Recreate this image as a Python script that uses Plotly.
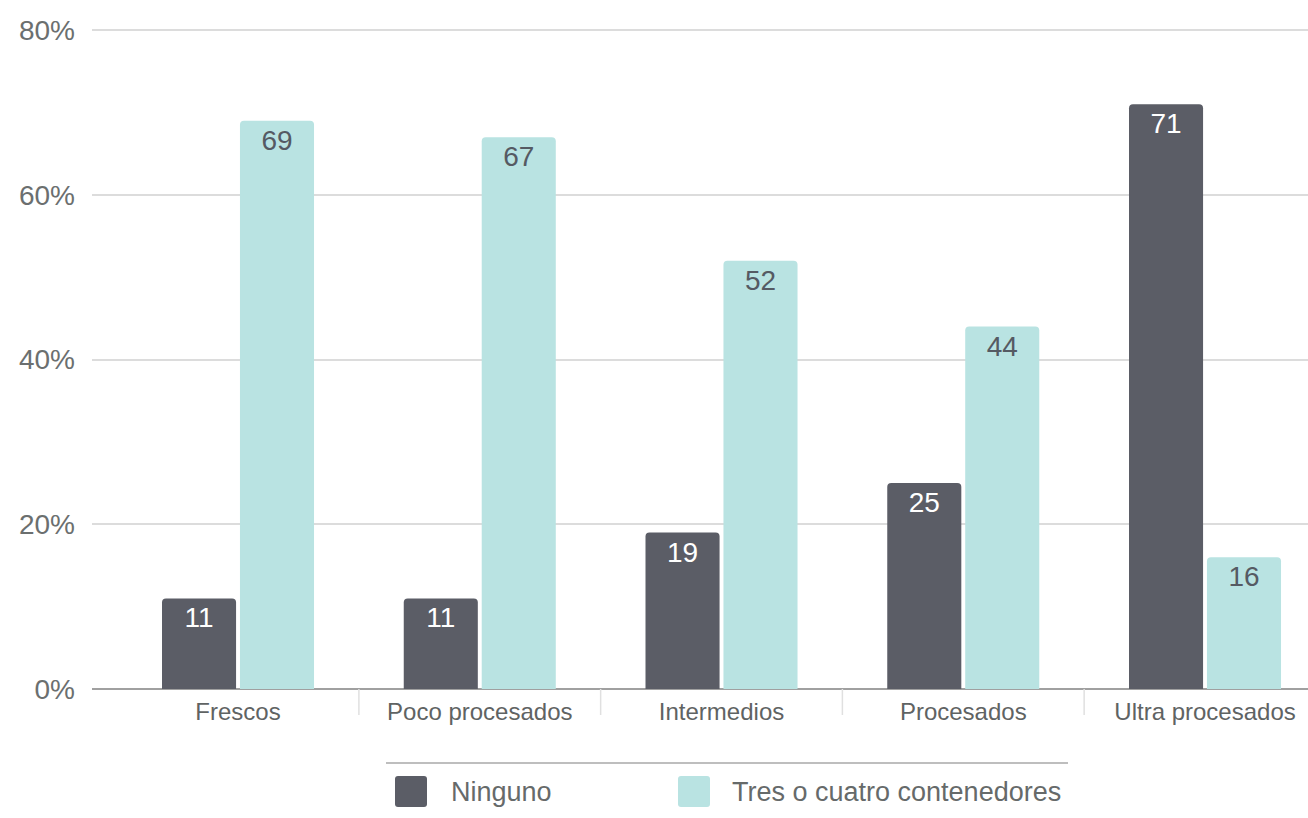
import plotly.graph_objects as go

categorias = ["Frescos", "Poco procesados", "Intermedios", "Procesados", "Ultra procesados"]
ninguno = [11, 11, 19, 25, 71]
tres_cuatro = [69, 67, 52, 44, 16]
y_ticks = [0, 20, 40, 60, 80]
y_tick_labels = ["0%", "20%", "40%", "60%", "80%"]
series_names = ["Ninguno", "Tres o cuatro contenedores"]

COLOR_NINGUNO = "#5b5d66"
COLOR_TRES = "#b9e3e2"
FONT = "Liberation Sans, Arial, sans-serif"

W, H = 1308, 818
M_L, M_R, M_T, M_B = 92, 0, 28, 129
PLOT_W = W - M_L - M_R
PLOT_H = H - M_T - M_B


def px_x(px):
    return (px - M_L) / PLOT_W


def px_y(py):
    return (H - M_B - py) / PLOT_H


def rounded_rect(x0, y0, x1, y1, r):
    # rounded rectangle path in paper units from a pixel box
    X = lambda v: px_x(v)
    Y = lambda v: px_y(v)
    return (f"M {X(x0 + r)} {Y(y0)} L {X(x1 - r)} {Y(y0)} "
            f"Q {X(x1)} {Y(y0)} {X(x1)} {Y(y0 + r)} L {X(x1)} {Y(y1 - r)} "
            f"Q {X(x1)} {Y(y1)} {X(x1 - r)} {Y(y1)} L {X(x0 + r)} {Y(y1)} "
            f"Q {X(x0)} {Y(y1)} {X(x0)} {Y(y1 - r)} L {X(x0)} {Y(y0 + r)} "
            f"Q {X(x0)} {Y(y0)} {X(x0 + r)} {Y(y0)} Z")


fig = go.Figure()

fig.add_trace(go.Bar(
    x=categorias, y=ninguno, name=series_names[0],
    marker=dict(color=COLOR_NINGUNO, line=dict(width=0)),
    texttemplate="%{y}", textposition="inside", insidetextanchor="end",
    textfont=dict(color="#ffffff", size=28, family=FONT),
    showlegend=False,
))
fig.add_trace(go.Bar(
    x=categorias, y=tres_cuatro, name=series_names[1],
    marker=dict(color=COLOR_TRES, line=dict(width=0)),
    texttemplate="%{y}", textposition="inside", insidetextanchor="end",
    textfont=dict(color="#555a63", size=28, family=FONT),
    showlegend=False,
))

# short separators between categories below the axis
for i in range(len(categorias) - 1):
    fig.add_shape(type="line", xref="x", yref="paper",
                  x0=i + 0.5, x1=i + 0.5, y0=0, y1=-26 / PLOT_H,
                  line=dict(color="#e0e0e0", width=1.5))

# rule above the legend
fig.add_shape(type="line", xref="paper", yref="paper",
              x0=px_x(386), x1=px_x(1068), y0=px_y(763), y1=px_y(763),
              line=dict(color="#a8a8a8", width=1.5))

# legend: swatches and labels
legend_items = [
    (series_names[0], COLOR_NINGUNO, 395, 449),
    (series_names[1], COLOR_TRES, 678, 730),
]
for nombre, color, sx, tx in legend_items:
    fig.add_shape(type="path", xref="paper", yref="paper",
                  path=rounded_rect(sx, 776, sx + 32, 807, 3),
                  fillcolor=color, line=dict(width=0))
    fig.add_annotation(xref="paper", yref="paper", x=px_x(tx), y=px_y(792),
                       xanchor="left", yanchor="middle", showarrow=False,
                       text=nombre, font=dict(size=27, color="#666a6a", family=FONT))

fig.update_layout(
    width=W, height=H,
    margin=dict(l=M_L, r=M_R, t=M_T, b=M_B),
    paper_bgcolor="white", plot_bgcolor="white",
    barmode="group", bargap=0.355, bargroupgap=0.05,
    barcornerradius=4,
    showlegend=False,
    font=dict(family=FONT, color="#666a6a"),
    xaxis=dict(
        range=[-0.604, 4.426],
        showgrid=False, zeroline=False, showline=False,
        ticks="", ticklabelstandoff=6,
        tickfont=dict(size=24, color="#5f6363"),
        fixedrange=True,
    ),
    yaxis=dict(
        range=[0, 80.25], tickvals=y_ticks, ticktext=y_tick_labels,
        showgrid=True, gridcolor="#dcdcdc", gridwidth=2,
        zeroline=True, zerolinecolor="#a0a0a0", zerolinewidth=2,
        showline=False, ticks="", ticklabelstandoff=16,
        tickfont=dict(size=28, color="#6b6f6f"),
        fixedrange=True,
    ),
)

fig.write_html("out.html")
